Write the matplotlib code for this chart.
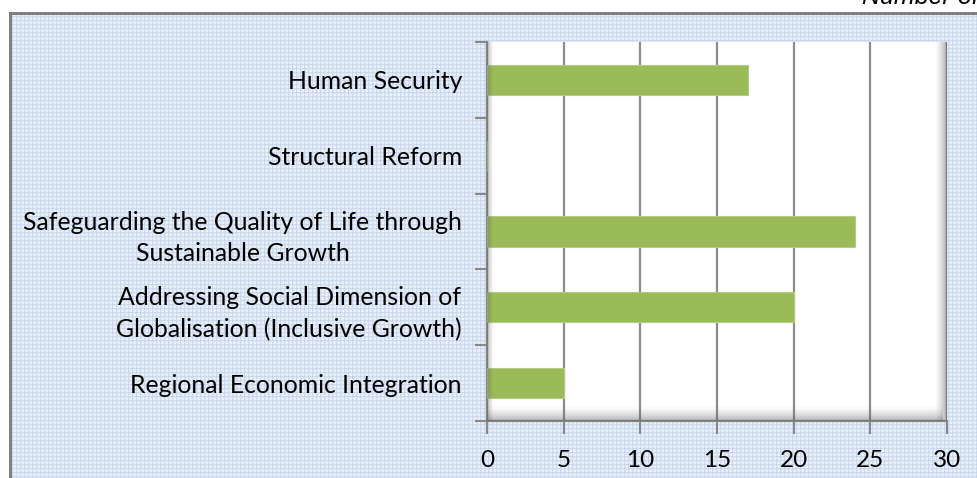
# -*- coding: utf-8 -*-
import matplotlib
matplotlib.use("Agg")
import matplotlib.pyplot as plt
import matplotlib.patches as patches
import numpy as np

plt.rcParams["font.family"] = ["Lato", "DejaVu Sans"]

# data (bottom to top)
categories = [
    "Regional Economic Integration",
    "Addressing Social Dimension of\nGlobalisation (Inclusive Growth)",
    "Safeguarding the Quality of Life through\nSustainable Growth",
    "Structural Reform",
    "Human Security",
]
values = [5, 20, 24, 0, 17]
x_ticks = [0, 5, 10, 15, 20, 25, 30]

W, H = 978, 478
fig = plt.figure(figsize=(W / 100, H / 100), dpi=100)

# graph paper background of the chart box
bg = fig.add_axes([0, 0, 1, 1], zorder=0)
img = np.ones((H, W, 3))
yy, xx = np.mgrid[0:H, 0:W]
light = np.array([0.925, 0.948, 0.98])
line = np.array([0.815, 0.865, 0.945])
cross = np.array([0.76, 0.82, 0.925])
lx = (xx % 4) == 0
ly = (yy % 4) == 0
lx2 = (xx % 4) == 1
ly2 = (yy % 4) == 1
half = 0.5 * (light + line)
pat = np.where((lx & ly)[..., None], cross,
               np.where((lx | ly)[..., None], line,
                        np.where((lx2 | ly2)[..., None], half, light)))
inside = (xx >= 10) & (yy >= 13)
img[inside] = pat[inside]
border = ((yy >= 12) & (yy <= 14) & (xx >= 9)) | ((xx >= 9) & (xx <= 11) & (yy >= 12))
img[border] = [0.5, 0.5, 0.5]
bg.imshow(img, extent=[0, W, H, 0], aspect="auto", interpolation="nearest")
bg.set_xlim(0, W)
bg.set_ylim(H, 0)
bg.axis("off")

# plot area
left, right, top, bottom = 487, 947, 42, 421
ax = fig.add_axes([left / W, (H - bottom) / H, (right - left) / W, (bottom - top) / H], zorder=1)
ax.set_facecolor("white")

pos = np.arange(len(categories))
ax.barh(pos, values, height=0.4, color="#9BBB59", edgecolor="#b3cc82", linewidth=0.8, zorder=3)

ax.set_xlim(0, 30)
ax.set_ylim(-0.5, len(categories) - 0.5)
ax.set_xticks(x_ticks)
ax.set_xticklabels([str(v) for v in x_ticks], fontsize=17.5)
ax.grid(axis="x", color="#8c8c8c", linewidth=1.6, zorder=1)
ax.set_axisbelow(True)

ax.set_yticks(np.arange(-0.5, len(categories), 1.0))
ax.set_yticklabels([])
ax.set_yticks(pos, minor=True)
ax.set_yticklabels(categories, minor=True, fontsize=17.8, ha="right",
                   multialignment="center", linespacing=1.45)
ax.tick_params(axis="y", which="minor", length=0, pad=18)
ax.tick_params(axis="y", which="major", length=9, width=1.5, color="#888888", direction="out")
ax.tick_params(axis="x", length=9, width=1.5, color="#888888", direction="out", pad=12)

for s in ["top", "right"]:
    ax.spines[s].set_visible(False)
for s in ["left", "bottom"]:
    ax.spines[s].set_color("#888888")
    ax.spines[s].set_linewidth(1.6)

# bevel shading of the plot area
aw, ah = right - left, bottom - top
for i in range(12):
    ax.add_patch(patches.Rectangle((1 - (i + 1) / aw, 0), 1 / aw, 1, transform=ax.transAxes,
                                   color="#606060", alpha=0.5 * (1 - i / 12.0) ** 1.5, lw=0, zorder=4))
for i in range(15):
    ax.add_patch(patches.Rectangle((0, i / ah), 1 - 4 / aw, 1 / ah, transform=ax.transAxes,
                                   color="#606060", alpha=0.45 * (1 - i / 15.0) ** 1.5, lw=0, zorder=4))
for i in range(6):
    ax.add_patch(patches.Rectangle((i / aw, 0), 1 / aw, 1, transform=ax.transAxes,
                                   color="#606060", alpha=0.35 * (1 - i / 6.0), lw=0, zorder=4))

fig.text(862 / W, 1 - 4 / H, "Number of Initiatives", fontsize=18, style="italic",
         family="Liberation Sans", va="baseline", ha="left")

fig.savefig("out.png", dpi=100)
